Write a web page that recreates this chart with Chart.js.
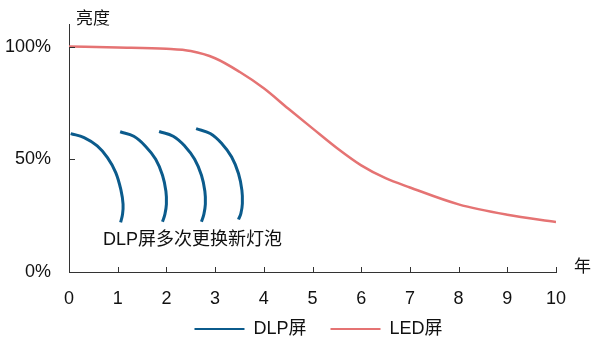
<!DOCTYPE html>
<html>
<head>
<meta charset="utf-8">
<script src="https://cdn.jsdelivr.net/npm/chart.js@4/dist/chart.umd.min.js"></script>
<style>
  html, body { margin: 0; padding: 0; background: #fff; }
  #wrap { width: 591px; height: 345px; }
</style>
</head>
<body>
<div id="wrap"><canvas id="c" width="591" height="345"></canvas></div>
<script>
// Years of use on the horizontal axis
const yearTicks = [0, 1, 2, 3, 4, 5, 6, 7, 8, 9, 10];
const brightnessTicks = [0, 50, 100];

// LED screen brightness (%) by year
const ledYears = [0, 1, 2, 2.5, 3, 3.5, 4, 4.5, 5, 5.5, 6, 6.5, 7, 8, 9, 10];
const ledBrightness = [100, 99.6, 99.0, 98.0, 94.8, 88.8, 81.5, 72.5, 63.7, 55.0, 47.3, 41.6, 37.5, 30.0, 25.4, 22.2];

// DLP screen: brightness drops over each lamp's life, then a new lamp is fitted
const dlpArc1X = [0.035, 0.31, 0.58, 0.79, 0.96, 1.07, 1.11, 1.10, 1.06];
const dlpArc1Y = [61.4, 59.6, 55.9, 50.7, 44.1, 36.0, 30.1, 25.7, 22.0];
const dlpArc2X = [1.05, 1.33, 1.57, 1.78, 1.92, 1.99, 2.00, 1.97, 1.92];
const dlpArc2Y = [62.2, 60.2, 55.8, 50.0, 42.9, 35.8, 30.1, 25.7, 22.3];
const dlpArc3X = [1.85, 2.14, 2.38, 2.58, 2.72, 2.79, 2.80, 2.77, 2.72];
const dlpArc3Y = [62.3, 60.2, 55.8, 50.0, 42.9, 35.8, 30.1, 25.7, 22.3];
const dlpArc4X = [2.61, 2.90, 3.14, 3.34, 3.48, 3.55, 3.56, 3.53, 3.48];
const dlpArc4Y = [63.6, 61.4, 56.9, 51.0, 43.7, 36.3, 30.4, 26.0, 23.3];

const seriesNames = ['DLP屏', 'LED屏'];
const yTitle = '亮度';
const xTitle = '年';
const note = 'DLP屏多次更换新灯泡';

const FONT = "'Liberation Sans', Arial, 'Noto Sans CJK SC', sans-serif";
const TEXT = '#111';
const AXIS = '#333';
const BLUE = '#0b5b8c';
const RED = '#e57373';

function pts(xs, ys) { return xs.map((x, i) => ({ x, y: ys[i] })); }

// Arcs joined with gaps (null) between them
const dlpData = [
  ...pts(dlpArc1X, dlpArc1Y), { x: 1.06, y: null },
  ...pts(dlpArc2X, dlpArc2Y), { x: 1.9, y: null },
  ...pts(dlpArc3X, dlpArc3Y), { x: 2.7, y: null },
  ...pts(dlpArc4X, dlpArc4Y)
];

// Legend: compact slot under the axis, items lifted to sit just below the tick labels
const legendPlacement = {
  id: 'legendPlacement',
  beforeInit(chart) {
    const lg = chart.legend;
    if (!lg) return;
    const fit = lg.fit;
    lg.fit = function () {
      fit.call(this);
      this.height = 29;
    };
  },
  afterLayout(chart) {
    const lg = chart.legend;
    if (!lg) return;
    lg.top -= 16;
    lg.left += 6; lg.right += 6;
  }
};

// Tick marks drawn inward, plus axis titles and the note
const decorations = {
  id: 'decorations',
  afterDraw(chart) {
    const { ctx, scales: { x, y }, chartArea } = chart;
    ctx.save();
    ctx.strokeStyle = AXIS;
    ctx.lineWidth = 1;
    ctx.beginPath();
    yearTicks.forEach(v => {
      const px = Math.round(x.getPixelForValue(v)) + 0.5;
      ctx.moveTo(px, chartArea.bottom);
      ctx.lineTo(px, chartArea.bottom - 5);
    });
    brightnessTicks.forEach(v => {
      const py = Math.round(y.getPixelForValue(v)) + 0.5;
      ctx.moveTo(chartArea.left, py);
      ctx.lineTo(chartArea.left + 6, py);
    });
    ctx.stroke();

    ctx.fillStyle = TEXT;
    ctx.textBaseline = 'middle';
    ctx.textAlign = 'left';
    ctx.font = '17px ' + FONT;
    ctx.fillText(yTitle, chartArea.left + 7, 19);
    ctx.fillText(xTitle, chartArea.right + 18, chartArea.bottom - 5);
    ctx.font = '18px ' + FONT;
    ctx.fillText(note, x.getPixelForValue(0.7), y.getPixelForValue(14.2));
    ctx.restore();
  }
};

new Chart(document.getElementById('c'), {
  type: 'line',
  data: {
    datasets: [
      {
        label: seriesNames[0],
        data: dlpData,
        borderColor: BLUE,
        backgroundColor: BLUE,
        borderWidth: 3,
        tension: 0.4,
        pointRadius: 0,
        spanGaps: false,
        fill: false
      },
      {
        label: seriesNames[1],
        data: pts(ledYears, ledBrightness),
        borderColor: RED,
        backgroundColor: RED,
        borderWidth: 2.5,
        cubicInterpolationMode: 'monotone',
        pointRadius: 0,
        fill: false
      }
    ]
  },
  options: {
    responsive: false,
    animation: false,
    layout: { padding: { left: 0, right: 35, top: 24, bottom: 4 } },
    plugins: {
      tooltip: { enabled: false },
      legend: {
        position: 'bottom',
        fullSize: false,
        labels: {
          boxWidth: 50,
          boxHeight: 2,
          padding: 24,
          color: TEXT,
          font: { family: FONT, size: 18 },
          generateLabels(chart) {
            return chart.data.datasets.map((ds, i) => ({
              text: ds.label,
              fillStyle: ds.borderColor,
              strokeStyle: ds.borderColor,
              lineWidth: 0,
              fontColor: TEXT,
              datasetIndex: i
            }));
          }
        }
      }
    },
    scales: {
      x: {
        type: 'linear',
        min: 0,
        max: 10,
        afterBuildTicks(scale) { scale.ticks = yearTicks.map(v => ({ value: v })); },
        afterFit(scale) { scale.height = 40; },
        ticks: {
          padding: 16,
          color: TEXT,
          font: { family: FONT, size: 18 },
          maxRotation: 0
        },
        grid: { display: false, drawTicks: false },
        border: { display: true, color: AXIS, width: 1 }
      },
      y: {
        type: 'linear',
        min: 0,
        max: 110,
        afterBuildTicks(scale) { scale.ticks = brightnessTicks.map(v => ({ value: v })); },
        afterFit(scale) {
          scale.width = 69;
          scale.paddingTop = 0;
          scale.paddingBottom = 0;
        },
        ticks: {
          padding: 18,
          color: TEXT,
          font: { family: FONT, size: 18 },
          callback: v => v + '%'
        },
        grid: { display: false, drawTicks: false },
        border: { display: true, color: AXIS, width: 1 }
      }
    }
  },
  plugins: [legendPlacement, decorations]
});
</script>
</body>
</html>
